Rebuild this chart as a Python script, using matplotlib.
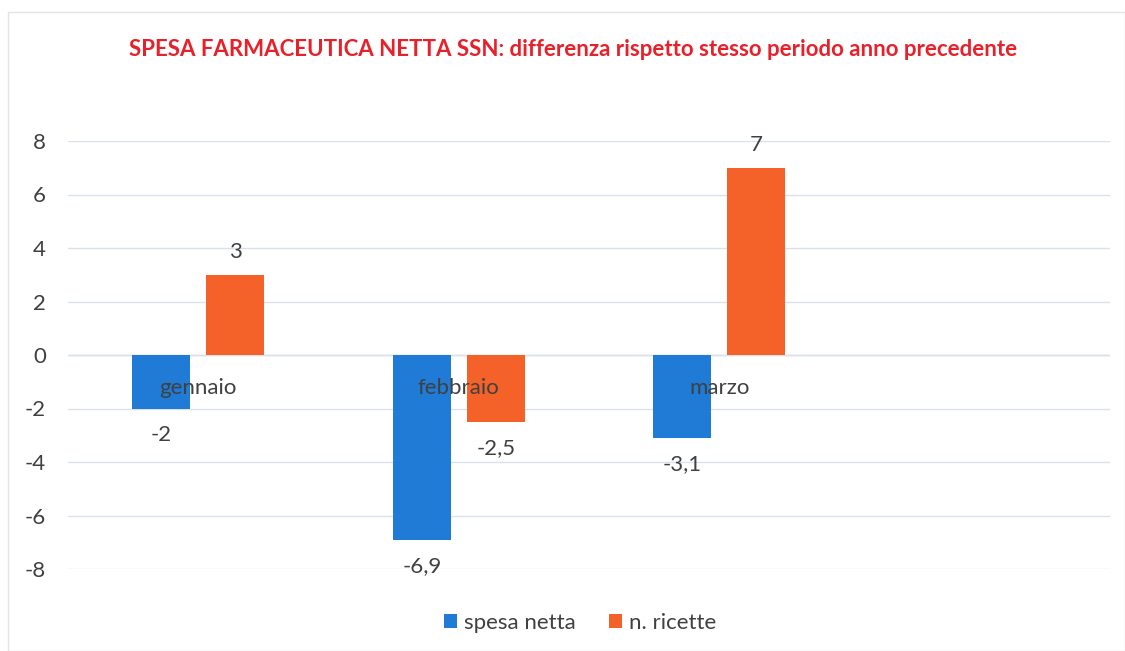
import matplotlib.pyplot as plt
import matplotlib.patches as mpatches

plt.rcParams['font.family'] = ['Lato', 'DejaVu Sans']

mesi = ['gennaio', 'febbraio', 'marzo', '']
spesa_netta = [-2, -6.9, -3.1]
n_ricette = [3, -2.5, 7]
yticks = [-8, -6, -4, -2, 0, 2, 4, 6, 8]

blu = '#1f7bd6'
arancio = '#f4622a'
testo = '#404040'
fs = 16

fig = plt.figure(figsize=(11.25, 6.51), dpi=100)
ax = fig.add_axes([68 / 1125, 1 - 569 / 651, (1110 - 68) / 1125, (569 - 141) / 651])

# cornice del grafico
fig.patches.append(mpatches.Rectangle((8 / 1125, 0), 1 - 8 / 1125, 1 - 12 / 651,
    transform=fig.transFigure, fill=False, edgecolor='#e4e4e4', linewidth=1))

w = 58 / 260.5
off = 37 / 260.5
x = range(len(spesa_netta))
b1 = ax.bar([i - off for i in x], spesa_netta, w, color=blu, label='spesa netta', zorder=3)
b2 = ax.bar([i + off for i in x], n_ricette, w, color=arancio, label='n. ricette', zorder=3)

for bars, vals in ((b1, spesa_netta), (b2, n_ricette)):
    for b, v in zip(bars, vals):
        s = ('%g' % v).replace('.', ',')
        if v >= 0:
            ax.annotate(s, (b.get_x() + b.get_width() / 2, v), xytext=(0, 9),
                textcoords='offset points', ha='center', va='bottom',
                fontsize=fs, color=testo)
        else:
            ax.annotate(s, (b.get_x() + b.get_width() / 2, v), xytext=(0, -12),
                textcoords='offset points', ha='center', va='top',
                fontsize=fs, color=testo)

for i, m in enumerate(mesi):
    ax.annotate(m, (i, 0), xytext=(0, -24), textcoords='offset points',
        ha='center', va='center', fontsize=fs, color=testo, zorder=4)

ax.set_xlim(-0.5, len(mesi) - 0.5)
ax.set_ylim(-8, 8)
ax.set_yticks(yticks)
ax.set_yticklabels([str(t) for t in yticks])
ax.set_xticks([])
ax.tick_params(axis='y', length=0, pad=16, labelsize=fs, labelcolor=testo)
ax.grid(axis='y', color='#d9e1ea', linewidth=1, zorder=0)
for sp in ax.spines.values():
    sp.set_visible(False)
ax.axhline(0, color='#dadada', linewidth=1, zorder=1)

fig.text(0.509, 1 - 49 / 651, 'SPESA FARMACEUTICA NETTA SSN: differenza rispetto stesso periodo anno precedente',
    ha='center', va='center', fontsize=16, fontweight='bold', color='#e8202a')

fig.legend(handles=[b1, b2], loc='center', bbox_to_anchor=(580 / 1125, 1 - 623 / 651),
    ncol=2, frameon=False, fontsize=fs, handlelength=0.6, handleheight=0.6,
    handletextpad=0.3, columnspacing=1.5, labelcolor=testo)

fig.savefig('out.png', dpi=100)
